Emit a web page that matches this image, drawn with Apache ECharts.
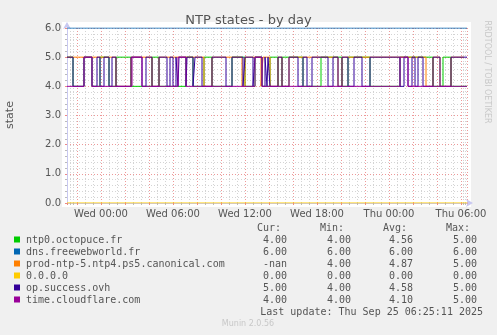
<!DOCTYPE html>
<html><head><meta charset="utf-8">
<script src="https://cdn.jsdelivr.net/npm/echarts@6/dist/echarts.min.js"></script>
<style>html,body{margin:0;padding:0;background:#f0f0f0}#c{width:497px;height:335px}</style>
</head><body><div id="c"></div>
<script>
// ---- data ----
const startTime = '2025-09-23 21:10';
const endTime = '2025-09-25 06:30';
const seriesNames = ['ntp0.octopuce.fr','dns.freewebworld.fr','prod-ntp-5.ntp4.ps5.canonical.com','0.0.0.0','op.success.ovh','time.cloudflare.com'];
const ntp0 = [['2025-09-23 21:10',5],['2025-09-23 21:40',4],['2025-09-23 22:35',5],['2025-09-23 23:15',4],['2025-09-23 23:55',5],['2025-09-24 00:40',4],['2025-09-24 01:15',5],['2025-09-24 02:30',4],['2025-09-24 04:15',5],['2025-09-24 04:50',4],['2025-09-24 07:05',5],['2025-09-24 07:40',4],['2025-09-24 08:35',5],['2025-09-24 09:15',4],['2025-09-24 10:55',5],['2025-09-24 12:00',4],['2025-09-24 12:50',5],['2025-09-24 13:25',4],['2025-09-24 14:05',5],['2025-09-24 14:45',4],['2025-09-24 15:05',5],['2025-09-24 16:50',4],['2025-09-24 18:20',5],['2025-09-24 20:05',4],['2025-09-24 20:35',5],['2025-09-24 22:25',4],['2025-09-25 00:55',5],['2025-09-25 03:40',4],['2025-09-25 04:30',5],['2025-09-25 05:10',4],['2025-09-25 06:30',4]];
const dns = [['2025-09-23 21:10',6],['2025-09-25 06:30',6]];
const canonical = [['2025-09-23 21:10',5],['2025-09-24 01:15',4],['2025-09-24 02:30',5],['2025-09-24 04:15',4],['2025-09-24 04:50',5],['2025-09-24 08:35',4],['2025-09-24 09:15',5],['2025-09-24 11:45',4],['2025-09-24 12:00',5],['2025-09-24 13:20',4],['2025-09-24 13:30',5],['2025-09-24 14:05',4],['2025-09-24 14:45',5],['2025-09-24 15:05',4],['2025-09-24 15:40',5],['2025-09-24 19:45',4],['2025-09-24 20:05',5],['2025-09-25 03:05',4],['2025-09-25 03:40',5],['2025-09-25 04:15',4],['2025-09-25 05:10',5],['2025-09-25 06:10',5],['2025-09-25 06:15','-']];
const zeroHost = [['2025-09-23 21:10',0],['2025-09-25 06:30',0]];
const opSuccess = [['2025-09-23 21:10',5],['2025-09-23 21:40',4],['2025-09-23 22:35',5],['2025-09-23 23:15',4],['2025-09-23 23:40',5],['2025-09-23 23:55',4],['2025-09-24 00:15',5],['2025-09-24 00:40',4],['2025-09-24 00:55',5],['2025-09-24 01:15',4],['2025-09-24 02:30',5],['2025-09-24 03:25',4],['2025-09-24 03:45',5],['2025-09-24 04:15',4],['2025-09-24 04:50',5],['2025-09-24 05:30',4],['2025-09-24 05:45',5],['2025-09-24 06:00',4],['2025-09-24 06:15',5],['2025-09-24 06:25',4],['2025-09-24 06:30',5],['2025-09-24 07:05',4],['2025-09-24 07:10',5],['2025-09-24 07:40',4],['2025-09-24 07:50',5],['2025-09-24 08:25',4],['2025-09-24 09:15',5],['2025-09-24 10:25',4],['2025-09-24 10:55',5],['2025-09-24 11:50',4],['2025-09-24 12:00',5],['2025-09-24 12:40',4],['2025-09-24 12:50',5],['2025-09-24 13:25',4],['2025-09-24 13:40',5],['2025-09-24 13:50',4],['2025-09-24 13:55',5],['2025-09-24 14:05',4],['2025-09-24 14:45',5],['2025-09-24 15:05',4],['2025-09-24 15:40',5],['2025-09-24 16:25',4],['2025-09-24 16:50',5],['2025-09-24 17:10',4],['2025-09-24 17:35',5],['2025-09-24 18:55',4],['2025-09-24 19:20',5],['2025-09-24 19:45',4],['2025-09-24 20:05',5],['2025-09-24 20:35',4],['2025-09-24 21:05',5],['2025-09-24 21:45',4],['2025-09-24 22:25',5],['2025-09-25 00:55',4],['2025-09-25 01:15',5],['2025-09-25 01:35',4],['2025-09-25 01:55',5],['2025-09-25 02:10',4],['2025-09-25 02:25',5],['2025-09-25 02:50',4],['2025-09-25 03:40',5],['2025-09-25 04:15',4],['2025-09-25 05:10',5],['2025-09-25 06:30',5]];
const cloudflare = [['2025-09-23 21:10',4],['2025-09-23 22:35',5],['2025-09-23 23:15',4],['2025-09-24 02:35',5],['2025-09-24 03:25',4],['2025-09-24 06:25',5],['2025-09-24 07:05',4],['2025-09-24 12:50',5],['2025-09-24 13:25',4],['2025-09-25 00:55',5],['2025-09-25 01:35',4],['2025-09-25 06:30',4]];
const colHeads = ['Cur:','Min:','Avg:','Max:'];
const curVals = ['4.00','6.00','-nan','0.00','5.00','4.00'];
const minVals = ['4.00','6.00','4.00','0.00','4.00','4.00'];
const avgVals = ['4.56','6.00','4.87','0.00','4.58','4.10'];
const maxVals = ['5.00','6.00','5.00','0.00','5.00','5.00'];
const yTicks = [0,1,2,3,4,5,6];
const lastUpdate = 'Last update: Thu Sep 25 06:25:11 2025';

// ---- styles ----
const colors = ['#00CC00','#0066B3','#FF8000','#FFCC00','#330099','#990099'];
const seriesData = [ntp0, dns, canonical, zeroHost, opSuccess, cloudflare];
const txt = '#555';
const mono = '"DejaVu Sans Mono", monospace';
const sans = '"DejaVu Sans", sans-serif';
const days = ['Sun','Mon','Tue','Wed','Thu','Fri','Sat'];

const chart = echarts.init(document.getElementById('c'), null, {renderer:'canvas'});

const graphics = [
  {type:'rect', z:-10, silent:true, shape:{x:62,y:22,width:409,height:185}, style:{fill:'#ffffff'}},
  {type:'text', x:10, y:115, rotation:Math.PI/2, style:{text:'state', fill:txt, font:'11px '+sans, align:'center', verticalAlign:'middle'}},
  {type:'text', x:487, y:72, rotation:-Math.PI/2, style:{text:'RRDTOOL / TOBI OETIKER', fill:'#c8c8c8', font:'8px '+sans, align:'center', verticalAlign:'middle'}},
  {type:'text', x:248, y:324, style:{text:'Munin 2.0.56', fill:'#c8c8c8', font:'8px '+sans, align:'center', verticalAlign:'middle'}},
  {type:'text', x:483, y:312, style:{text:lastUpdate, fill:txt, font:'10px '+mono, align:'right', verticalAlign:'middle'}}
];
const headX = [281,344,407,470];
const valX = [287,351,413,477];
colHeads.forEach((h,i)=>graphics.push({type:'text', x:headX[i], y:228, style:{text:h, fill:txt, font:'10px '+mono, align:'right', verticalAlign:'middle'}}));
seriesNames.forEach((n,i)=>{
  const y = 240 + 12*i;
  graphics.push({type:'rect', shape:{x:14,y:y-3.5,width:6,height:6}, style:{fill:colors[i]}});
  graphics.push({type:'text', x:26, y:y, style:{text:n, fill:txt, font:'10px '+mono, align:'left', verticalAlign:'middle'}});
  [curVals[i],minVals[i],avgVals[i],maxVals[i]].forEach((v,j)=>graphics.push({type:'text', x:valX[j], y:y, style:{text:v, fill:txt, font:'10px '+mono, align:'right', verticalAlign:'middle'}}));
});

chart.setOption({
  animation:false,
  backgroundColor:'#f0f0f0',
  title:{text:'NTP states - by day', left:'center', top:9, textStyle:{fontFamily:sans, fontSize:13, fontWeight:'normal', color:txt}},
  grid:{left:67, right:30, top:28, bottom:132, containLabel:false},
  xAxis:{
    type:'time', min:startTime, max:endTime,
    minInterval:3*3600*1000, maxInterval:3*3600*1000,
    axisLine:{show:true, lineStyle:{color:'#c8c8f0', width:1}, symbol:['none','arrow'], symbolSize:[6,7], symbolOffset:[0,6]},
    axisTick:{show:true, length:2, lineStyle:{color:'#e88'}},
    minorTick:{show:true, splitNumber:3, length:2, lineStyle:{color:'#bbb'}},
    splitLine:{show:true, lineStyle:{color:'rgba(230,110,110,0.7)', type:[1,2], width:1}},
    minorSplitLine:{show:true, lineStyle:{color:'#d4d4d4', type:[1,2], width:1}},
    axisLabel:{showMinLabel:false, showMaxLabel:false, color:txt, fontFamily:sans, fontSize:10, margin:6, hideOverlap:false,
      formatter:function(v){const d=new Date(v);const h=d.getHours(); if(h%6!==0||d.getMinutes()!==0) return ''; return days[d.getDay()]+' '+String(h).padStart(2,'0')+':00';}}
  },
  yAxis:{
    type:'value', min:yTicks[0], max:yTicks[yTicks.length-1], interval:1,
    axisLine:{show:true, lineStyle:{color:'#c8c8f0', width:1}, symbol:['none','arrow'], symbolSize:[6,7], symbolOffset:[0,6]},
    axisTick:{show:true, length:2, lineStyle:{color:'#e88'}},
    minorTick:{show:true, splitNumber:5, length:2, lineStyle:{color:'#bbb'}},
    splitLine:{show:true, lineStyle:{color:'rgba(230,110,110,0.7)', type:[1,2], width:1}},
    minorSplitLine:{show:true, lineStyle:{color:'#d4d4d4', type:[1,2], width:1}},
    axisLabel:{color:txt, fontFamily:sans, fontSize:10, margin:6, formatter:v=>v.toFixed(1)}
  },
  series: seriesData.map((d,i)=>({
    name:seriesNames[i], type:'line', step:'end', data:d, showSymbol:false, symbol:'none',
    lineStyle:{color:colors[i], width:1}, itemStyle:{color:colors[i]}, z:2+i, connectNulls:false
  })),
  graphic: graphics
});
</script></body></html>
